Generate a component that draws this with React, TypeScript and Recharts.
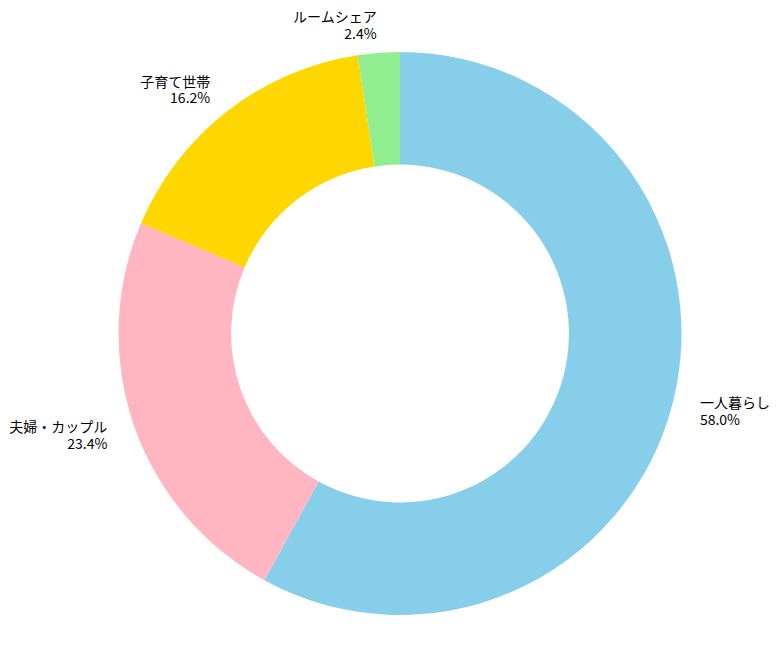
import React from 'react';
import { PieChart, Pie, Cell } from 'recharts';

const categories = ['一人暮らし', '夫婦・カップル', '子育て世帯', 'ルームシェア'];
const shares = [58.0, 23.4, 16.2, 2.4];
const colors = ['#87CEEB', '#FFB6C1', '#FFD700', '#90EE90'];

const data = categories.map((name, i) => ({ name, value: shares[i] }));

const RADIAN = Math.PI / 180;
const FONT = '"Noto Sans CJK JP", "Noto Sans", sans-serif';

// label sits at 1.1x the outer radius, two lines, aligned away from the ring
function renderLabel(props: any) {
  const { cx, cy, midAngle, outerRadius, index } = props;
  const r = outerRadius * 1.1;
  const cos = Math.cos(-midAngle * RADIAN);
  const x = cx + r * cos;
  const y = cy + r * Math.sin(-midAngle * RADIAN);
  const anchor = cos >= 0 ? 'start' : 'end';
  return (
    <g key={`lbl-${index}`}>
      <text x={x} y={y - 8.3} textAnchor={anchor} dominantBaseline="central" fill="#000" fontSize={14} fontFamily={FONT}>
        {categories[index]}
      </text>
      <text x={x} y={y + 8.3} textAnchor={anchor} dominantBaseline="central" fill="#000" fontSize={14} fontFamily={FONT}>
        {shares[index].toFixed(1)}%
      </text>
    </g>
  );
}

export default function App() {
  return (
    <div style={{ position: 'absolute', left: 0, top: 0, width: 779, height: 652, background: '#fff' }}>
      <PieChart width={779} height={652}>
        <Pie
          data={data}
          dataKey="value"
          nameKey="name"
          cx={395}
          cy={328.5}
          outerRadius={281.5}
          innerRadius={168.9}
          startAngle={90}
          endAngle={-270}
          stroke="none"
          label={renderLabel}
          labelLine={false}
          isAnimationActive={false}
        >
          {data.map((d, i) => (
            <Cell key={d.name} fill={colors[i]} />
          ))}
        </Pie>
      </PieChart>
    </div>
  );
}
